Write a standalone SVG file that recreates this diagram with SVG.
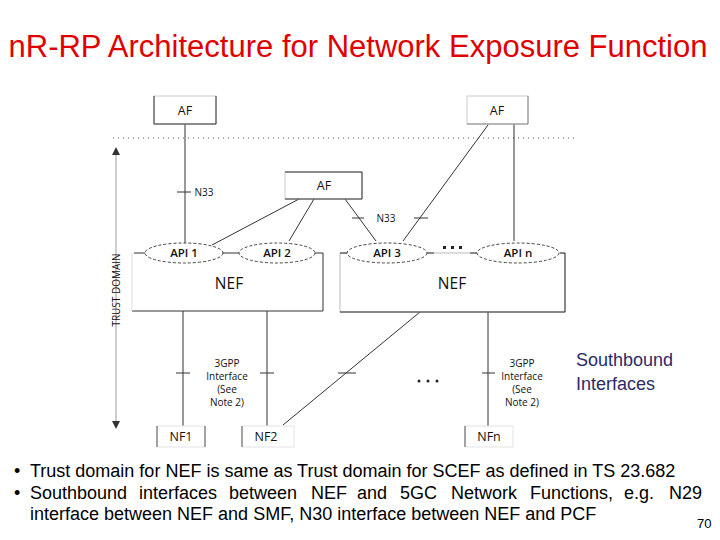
<svg xmlns="http://www.w3.org/2000/svg" width="720" height="540" viewBox="0 0 720 540">
<style>
.t{font-family:"Open Sans","DejaVu Sans",sans-serif;fill:#111;text-anchor:middle}
.s{font-size:10px}
.m{font-size:12.5px}
.a{font-size:11.5px;font-weight:600}
.l{font-size:15.5px}
.ln{stroke:#333;stroke-width:1;fill:none}
.tk{stroke:#333;stroke-width:1}
.bx{fill:#fff;stroke:#ccc;stroke-width:1}
.dk{stroke:#333;stroke-width:1;fill:none}
.el{fill:#fff;stroke:#444;stroke-width:1;stroke-dasharray:3 2}
.b{font-family:"Liberation Sans",Arial,sans-serif;fill:#000}
</style>
<defs>
<marker id="ah" viewBox="0 0 6 6" refX="3" refY="3" markerWidth="4" markerHeight="4" orient="auto-start-reverse"><path d="M0,0 L6,3 L0,6 z" fill="#333"/></marker>
</defs>
<rect width="720" height="540" fill="#fff"/>
<text x="358" y="57" font-family="Liberation Sans,Arial,sans-serif" font-size="31" fill="#e00000" text-anchor="middle">nR-RP Architecture for Network Exposure Function</text>

<line x1="113" y1="138" x2="575" y2="138" stroke="#555" stroke-width="1" stroke-dasharray="1 4"/>

<g id="trust">
<line x1="116" y1="151" x2="116" y2="425" stroke="#ccc" stroke-width="2" marker-start="url(#ah)" marker-end="url(#ah)"/>
<text class="t s" transform="translate(120,290) rotate(-90)">TRUST DOMAIN</text>
</g>

<g id="connectors">
<line class="ln" x1="185" y1="124" x2="185" y2="243"/>
<line class="tk" x1="177" y1="192" x2="191" y2="192"/>
<line class="ln" x1="299" y1="199" x2="212" y2="245"/>
<line class="ln" x1="314" y1="199" x2="289" y2="241"/>
<line class="ln" x1="345" y1="199" x2="376" y2="241"/>
<line class="tk" x1="352" y1="218" x2="364" y2="218"/>
<line class="ln" x1="488" y1="125" x2="403" y2="241"/>
<line class="tk" x1="414" y1="218" x2="428" y2="218"/>
<line class="ln" x1="514" y1="124" x2="514" y2="241"/>
<line class="ln" x1="183" y1="311" x2="183" y2="426" stroke-width="2"/>
<line class="tk" x1="176" y1="373" x2="190" y2="373"/>
<line class="ln" x1="267" y1="311" x2="267" y2="426"/>
<line class="tk" x1="260" y1="373" x2="274" y2="373"/>
<line class="ln" x1="283" y1="425" x2="420" y2="312"/>
<line class="tk" x1="338" y1="373" x2="356" y2="373"/>
<line class="ln" x1="488" y1="311" x2="488" y2="426"/>
<line class="tk" x1="482" y1="373" x2="495" y2="373"/>
<text class="t s" x="204" y="196">N33</text>
<text class="t s" x="386" y="222">N33</text>
<g class="t s">
<text x="227" y="367">3GPP</text><text x="227" y="380">Interface</text><text x="227" y="393">(See</text><text x="227" y="406">Note 2)</text>
<text x="522" y="367">3GPP</text><text x="522" y="380">Interface</text><text x="522" y="393">(See</text><text x="522" y="406">Note 2)</text>
</g>
<g fill="#222"><circle cx="419" cy="381" r="1.5"/><circle cx="428" cy="381" r="1.5"/><circle cx="437" cy="381" r="1.5"/></g>
</g>

<g id="af1">
<rect class="bx" x="154" y="96" width="62" height="28" stroke="none"/>
<path class="dk" d="M154,96 V124 H216 V96"/>
<text class="t m" x="185" y="115">AF</text>
</g>
<g id="af2">
<rect class="bx" x="467" y="96" width="61" height="28"/>
<path d="M528,96 V124 H467" stroke="#888" fill="none"/>
<text class="t m" x="497" y="115">AF</text>
</g>
<g id="af3">
<rect class="bx" x="285" y="172" width="77" height="27" stroke="none"/>
<path class="dk" d="M285,172 H362 V199 H285"/>
<text class="t m" x="324" y="190">AF</text>
</g>

<g id="nef1">
<rect x="132" y="253" width="191" height="58" fill="#fff" stroke="none"/>
<path class="ln" d="M134,253 H315 M315,253 H323 V311 H132"/>
<line x1="132" y1="253" x2="132" y2="311" stroke="#ddd"/>
<text class="t l" x="229" y="289">NEF</text>
</g>
<g id="nef2">
<rect x="340" y="253" width="225" height="59" fill="#fff" stroke="#bbb"/>
<path class="ln" d="M340,253 H347 M427,253 H434 M470,253 H477 M560,253 H565 V312 H340"/>
<text class="t l" x="452" y="289">NEF</text>
<g fill="#222"><rect x="443" y="246" width="3" height="3"/><rect x="451" y="246" width="3" height="3"/><rect x="459" y="246" width="3" height="3"/></g>
</g>

<g id="api1"><ellipse class="el" cx="184" cy="253" rx="39" ry="10"/><text class="t a" x="184" y="257">API 1</text></g>
<g id="api2"><ellipse class="el" cx="277" cy="253" rx="38" ry="10"/><text class="t a" x="277" y="257">API 2</text></g>
<g id="api3"><ellipse class="el" cx="387" cy="253" rx="40" ry="10"/><text class="t a" x="387" y="257" font-weight="normal">API 3</text></g>
<g id="apin"><ellipse class="el" cx="518" cy="253" rx="41" ry="10"/><text class="t a" x="518" y="257" font-weight="normal">API n</text></g>

<g id="nf1">
<rect x="157" y="426" width="48" height="21" fill="#fff" stroke="#e4e4e4"/>
<path d="M157,426 V447 M205,426 V447" stroke="#555"/>
<text class="t m" x="181" y="441">NF1</text>
</g>
<g id="nf2">
<rect x="242" y="426" width="52" height="21" fill="#fff" stroke="#e4e4e4"/>
<path d="M242,426 V447" stroke="#555"/>
<text class="t m" x="266" y="441">NF2</text>
</g>
<g id="nfn">
<rect x="465" y="426" width="48" height="21" fill="#fff" stroke="#e4e4e4"/>
<path d="M465,426 V447" stroke="#555"/>
<text class="t m" x="489" y="441">NFn</text>
</g>

<g font-family="Liberation Sans,Arial,sans-serif" font-size="18" fill="#2b2b66">
<text x="576" y="366">Southbound</text>
<text x="576" y="390">Interfaces</text>
</g>

<g class="b" font-size="18">
<text x="14" y="477">•</text>
<text x="30" y="477">Trust domain for NEF is same as Trust domain for SCEF as defined in TS 23.682</text>
<text x="14" y="499">•</text>
<text y="499"><tspan x="30">Southbound</tspan><tspan x="139">interfaces</tspan><tspan x="229">between</tspan><tspan x="311">NEF</tspan><tspan x="357">and</tspan><tspan x="400">5GC</tspan><tspan x="451">Network</tspan><tspan x="530">Functions,</tspan><tspan x="624">e.g.</tspan><tspan x="669">N29</tspan></text>
<text x="30" y="520">interface between NEF and SMF, N30 interface between NEF and PCF</text>
<text x="697" y="528" font-size="13">70</text>
</g>
</svg>
